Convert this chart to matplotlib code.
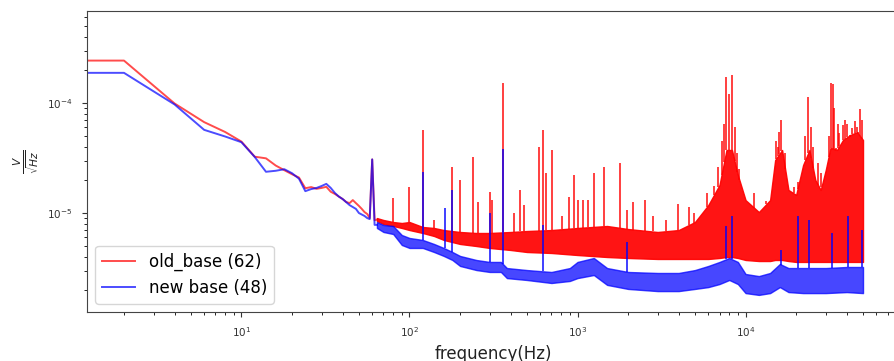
import numpy as np
import matplotlib
matplotlib.use("Agg")
import matplotlib.pyplot as plt

# ---------------- data (frequency in Hz, amplitude in V/sqrt(Hz)) ----------------
# low-frequency part drawn as a plain line
old_line_f = [0, 2, 4, 6, 8, 10, 12, 14, 16, 18, 20, 22, 24, 26, 28, 30, 32, 34, 36,
              38, 40, 42, 44, 46, 48, 50, 52, 54, 56, 58, 60, 62, 64]
old_line_v = [2.43e-4, 2.43e-4, 9.9e-5, 6.7e-5, 5.45e-5, 4.46e-5, 3.25e-5, 3.14e-5,
              2.7e-5, 2.45e-5, 2.25e-5, 2.1e-5, 1.68e-5, 1.72e-5, 1.66e-5, 1.69e-5,
              1.73e-5, 1.56e-5, 1.49e-5, 1.41e-5, 1.34e-5, 1.26e-5, 1.23e-5, 1.31e-5,
              1.23e-5, 1.16e-5, 1.09e-5, 1.02e-5, 9.8e-6, 9.0e-6, 3.07e-5, 8.6e-6, 8.7e-6]

new_line_f = [0, 2, 4, 6, 8, 10, 12, 14, 16, 18, 20, 22, 24, 26, 28, 30, 32, 34, 36,
              38, 40, 44, 48, 50, 54, 56, 58, 60, 62, 64]
new_line_v = [1.88e-4, 1.88e-4, 9.7e-5, 5.7e-5, 4.96e-5, 4.4e-5, 3.23e-5, 2.37e-5,
              2.42e-5, 2.5e-5, 2.3e-5, 2.05e-5, 1.58e-5, 1.65e-5, 1.69e-5, 1.76e-5,
              1.84e-5, 1.69e-5, 1.52e-5, 1.41e-5, 1.34e-5, 1.18e-5, 1.09e-5, 1.0e-5,
              9.4e-6, 9.0e-6, 8.8e-6, 3.07e-5, 7.8e-6, 7.8e-6]

# broadband noise floor (lower / upper envelope of the dense trace)
old_band_f = [64, 70, 80, 90, 100, 120, 140, 160, 200, 250, 300, 400, 500, 700, 1000,
              1500, 2000, 3000, 4000, 5000, 6000, 7000, 7700, 8300, 9000, 10000, 12000,
              14000, 15000, 16500, 18000, 20000, 22000, 24000, 26000, 28000, 30000,
              32000, 35000, 38000, 42000, 46000, 50000]
old_band_lo = [8.46e-6, 7.94e-6, 7.62e-6, 7.31e-6, 7.0e-6, 6.58e-6, 6.18e-6, 5.69e-6,
               5.23e-6, 5.01e-6, 4.81e-6, 4.61e-6, 4.42e-6, 4.33e-6, 4.15e-6, 3.98e-6,
               3.9e-6, 3.82e-6, 3.82e-6, 3.82e-6, 3.82e-6, 3.9e-6, 3.98e-6, 3.98e-6,
               3.9e-6, 3.74e-6, 3.66e-6, 3.66e-6, 3.74e-6, 3.74e-6, 3.66e-6, 3.59e-6,
               3.59e-6, 3.59e-6, 3.59e-6, 3.59e-6, 3.59e-6, 3.59e-6, 3.59e-6, 3.59e-6,
               3.59e-6, 3.59e-6, 3.59e-6]
old_band_hi = [9.0e-6, 8.64e-6, 8.28e-6, 8.11e-6, 8.28e-6, 7.46e-6, 7.31e-6, 7.0e-6,
               6.72e-6, 6.58e-6, 6.58e-6, 6.72e-6, 6.86e-6, 7.0e-6, 7.31e-6, 7.62e-6,
               7.15e-6, 6.72e-6, 7.0e-6, 8.28e-6, 1.18e-5, 1.8e-5, 3.74e-5, 3.74e-5,
               2.21e-5, 1.31e-5, 1.02e-5, 1.31e-5, 3.03e-5, 3.74e-5, 1.62e-5, 1.46e-5,
               2.73e-5, 3.74e-5, 2.0e-5, 1.62e-5, 2.46e-5, 3.9e-5, 3.74e-5, 4.61e-5,
               5.12e-5, 5.44e-5, 4.61e-5]

new_band_f = [64, 70, 80, 90, 100, 120, 140, 160, 180, 200, 250, 300, 350, 380, 500,
              700, 900, 1000, 1250, 1500, 2000, 3000, 4000, 5000, 6000, 7000, 8000,
              9000, 10000, 12000, 14000, 16000, 18000, 22000, 30000, 40000, 50000]
new_band_lo = [7.31e-6, 6.72e-6, 6.44e-6, 5.12e-6, 4.81e-6, 4.81e-6, 4.42e-6, 4.07e-6,
               3.74e-6, 3.3e-6, 3.03e-6, 2.91e-6, 2.91e-6, 2.56e-6, 2.46e-6, 2.31e-6,
               2.41e-6, 2.56e-6, 2.73e-6, 2.22e-6, 2.04e-6, 1.95e-6, 1.95e-6, 2.04e-6,
               2.12e-6, 2.26e-6, 2.46e-6, 2.26e-6, 1.87e-6, 1.8e-6, 1.87e-6, 2.12e-6,
               1.91e-6, 1.87e-6, 1.87e-6, 1.91e-6, 1.87e-6]
new_band_hi = [8.28e-6, 7.78e-6, 7.62e-6, 6.31e-6, 5.93e-6, 5.69e-6, 5.23e-6, 4.81e-6,
               4.42e-6, 4.07e-6, 3.74e-6, 3.59e-6, 3.59e-6, 3.16e-6, 3.03e-6, 2.91e-6,
               3.16e-6, 3.59e-6, 3.9e-6, 3.16e-6, 2.91e-6, 2.85e-6, 2.85e-6, 3.03e-6,
               3.3e-6, 3.59e-6, 3.9e-6, 3.59e-6, 2.79e-6, 2.67e-6, 2.85e-6, 3.44e-6,
               3.16e-6, 3.16e-6, 3.16e-6, 3.23e-6, 3.23e-6]

# narrow spectral lines (peak values)
old_spike_f = [80, 100, 120, 140, 180, 200, 240, 257, 300, 311, 360, 420, 453, 480,
               590, 625, 650, 708, 810, 885, 952, 1000, 1080, 1160, 1250, 1440, 1790,
               1970, 2140, 2510, 2800, 3380, 3960, 4600, 4920, 5900, 6460, 6900, 7200,
               7450, 7690, 7950, 8300, 8600, 8900, 9200, 9600, 11300, 13300, 15200,
               15600, 15900, 16300, 17200, 19300, 20400, 22600, 23600, 24500, 25200,
               27000, 28300, 31200, 32300, 33000, 33800, 34600, 35500, 36100, 37900,
               39000, 40000, 42000, 43100, 44500, 46200, 47000, 48100, 49500]
old_spike_v = [1.36e-5, 1.73e-5, 5.68e-5, 8.6e-6, 2.64e-5, 2.0e-5, 3.26e-5, 1.27e-5,
               1.56e-5, 1.31e-5, 1.52e-4, 1.0e-5, 1.62e-5, 1.18e-5, 4.0e-5, 5.68e-5,
               2.3e-5, 3.74e-5, 9.3e-6, 1.41e-5, 2.2e-5, 1.31e-5, 1.31e-5, 1.31e-5,
               2.3e-5, 2.64e-5, 2.83e-5, 1.07e-5, 1.27e-5, 1.31e-5, 9.3e-6, 8.6e-6,
               1.2e-5, 1.14e-5, 1.0e-5, 1.51e-5, 1.76e-5, 2.6e-5, 4.5e-5,
               6.5e-5, 1.72e-4, 1.2e-4, 1.8e-4, 6.0e-5, 3.5e-5, 2.5e-5, 1.62e-5,
               1.51e-5, 1.29e-5, 4.5e-5,
               4.0e-5, 5.5e-5, 7.0e-5, 3.5e-5, 1.72e-5, 1.9e-5, 5.0e-5, 1.14e-4,
               6.0e-5, 4.0e-5,
               2.83e-5, 2.3e-5, 5.0e-5, 1.53e-4, 1.5e-4, 9.0e-5, 3.86e-5, 6.5e-5,
               5.3e-5, 6.3e-5,
               7.0e-5, 6.5e-5, 4.94e-5, 5.89e-5, 6.8e-5, 6.1e-5, 5.5e-5, 8.77e-5, 7.0e-5]

new_spike_f = [120, 162, 180, 300, 360, 625, 1970, 7700, 8300, 16300, 20400, 24000,
               32600, 40800, 49000]
new_spike_v = [2.38e-5, 1.1e-5, 1.62e-5, 1.0e-5, 3.8e-5, 7.8e-6, 5.5e-6, 7.6e-6,
               9.3e-6, 4.6e-6, 9.3e-6, 8.6e-6, 6.6e-6, 9.3e-6, 7.0e-6]

labels = ["old_base (62)", "new base (48)"]

# ---------------- figure ----------------
fig = plt.figure(figsize=(8.95, 3.61), dpi=100)
ax = fig.add_axes([87 / 895, 49 / 361, 813 / 895, 301 / 361])
ax.set_xscale("log")
ax.set_yscale("log")


def spike_base(sf, bf, bh):
    return 10 ** np.interp(np.log10(sf), np.log10(bf), np.log10(bh))


def draw_series(line_f, line_v, bf, blo, bhi, sf, sv, color, band_alpha, label):
    ax.plot(line_f, line_v, color=color, alpha=0.7, lw=1.4, label=label)
    ax.fill_between(bf, blo, bhi, color=color, alpha=band_alpha, lw=1.0,
                    edgecolor=color)
    sf = np.asarray(sf, float)
    ax.vlines(sf, spike_base(sf, bf, bhi), sv, color=color, alpha=0.75, lw=1.4)


draw_series(old_line_f, old_line_v, old_band_f, old_band_lo, old_band_hi,
            old_spike_f, old_spike_v, "red", 0.92, labels[0])
draw_series(new_line_f, new_line_v, new_band_f, new_band_lo, new_band_hi,
            new_spike_f, new_spike_v, "blue", 0.72, labels[1])

ax.set_xlim(1.205, 83000)
ax.set_ylim(1.259e-6, 6.86e-4)

ax.tick_params(axis="both", which="major", labelsize=7.5, colors="#333333")
ax.tick_params(axis="y", which="major", pad=7)
ax.tick_params(axis="x", which="major", pad=6)
for s in ax.spines.values():
    s.set_color("#444444")

ax.set_xlabel("frequency(Hz)", fontsize=12, color="#222222")
ax.set_ylabel(r"$\frac{V}{\sqrt{Hz}}$", fontsize=11, color="#222222")

ax.legend(loc="lower left", fontsize=12)

fig.savefig("out.png", dpi=100)
